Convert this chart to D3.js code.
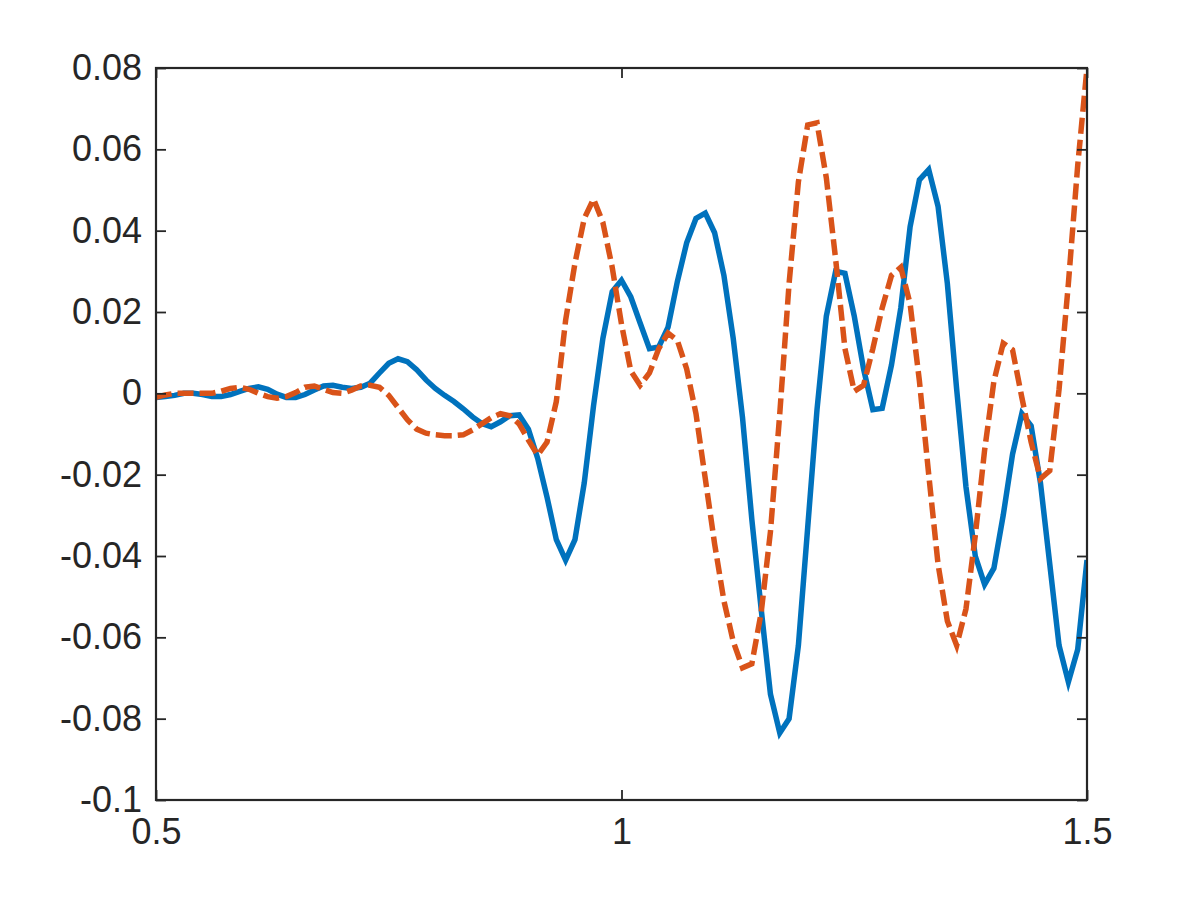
<!DOCTYPE html>
<html>
<head>
<meta charset="utf-8">
<script src="https://cdn.jsdelivr.net/npm/d3@7"></script>
<style>
  html, body { margin: 0; padding: 0; background: #ffffff; }
  svg { display: block; }
</style>
</head>
<body>
<svg id="chart" width="1200" height="900"></svg>
<script>
// ---- data ----
const xStart = 0.5;
const xStep = 0.01;
const seriesBlue = [
  -0.001, -0.0008, -0.0005, 0.0, 0.0, -0.0003, -0.0008, -0.0008, -0.0003, 0.0005,
  0.0012, 0.0016, 0.001, -0.0002, -0.001, -0.001, -0.0003, 0.0008, 0.0018, 0.002,
  0.0015, 0.0012, 0.0015, 0.0025, 0.005, 0.0074, 0.0085, 0.0078, 0.0058, 0.0033,
  0.0012, -0.0005, -0.002, -0.0038, -0.0058, -0.0074, -0.0082, -0.007, -0.0055, -0.0053,
  -0.0088, -0.016, -0.0255, -0.036, -0.041, -0.036, -0.022, -0.003, 0.0135, 0.025,
  0.0278, 0.0237, 0.0173, 0.011, 0.0114, 0.0163, 0.0275, 0.037, 0.043, 0.0443,
  0.0395, 0.029, 0.0135, -0.006, -0.031, -0.053, -0.074, -0.0835, -0.080, -0.062,
  -0.033, -0.004, 0.019, 0.030, 0.0295, 0.019, 0.006, -0.004, -0.0037, 0.007,
  0.021, 0.041, 0.0525, 0.055, 0.046, 0.027, 0.001, -0.023, -0.040, -0.047,
  -0.043, -0.030, -0.015, -0.005, -0.008, -0.022, -0.042, -0.062, -0.071, -0.063,
  -0.041
];
const seriesOrange = [
  -0.001, -0.0004, 0.0, 0.0, 0.0, 0.0, 0.0, 0.0005, 0.0012, 0.0015,
  0.001, 0.0, -0.0008, -0.0012, -0.0008, 0.0002, 0.0015, 0.0018, 0.001, 0.0002,
  0.0, 0.0008, 0.0018, 0.002, 0.0015, -0.0005, -0.0035, -0.0065, -0.0088, -0.0098,
  -0.0102, -0.0104, -0.0104, -0.0102, -0.009, -0.0075, -0.006, -0.005, -0.0055, -0.0075,
  -0.0115, -0.0152, -0.012, -0.002, 0.018, 0.032, 0.043, 0.0478, 0.042, 0.031,
  0.017, 0.0055, 0.002, 0.005, 0.011, 0.0148, 0.013, 0.006, -0.005, -0.021,
  -0.037, -0.051, -0.061, -0.0675, -0.0665, -0.054, -0.034, -0.005, 0.027, 0.052,
  0.066, 0.0665, 0.053, 0.033, 0.011, 0.0005, 0.002, 0.011, 0.021, 0.029,
  0.031, 0.022, 0.003, -0.020, -0.042, -0.056, -0.062, -0.053, -0.035, -0.014,
  0.003, 0.0123, 0.0107, -0.001, -0.012, -0.021, -0.019, 0.001, 0.027, 0.056,
  0.080
];
const xTicks = [0.5, 1, 1.5];
const xTickLabels = ["0.5", "1", "1.5"];
const yTicks = [-0.1, -0.08, -0.06, -0.04, -0.02, 0, 0.02, 0.04, 0.06, 0.08];
const yTickLabels = ["-0.1", "-0.08", "-0.06", "-0.04", "-0.02", "0", "0.02", "0.04", "0.06", "0.08"];

// ---- layout ----
const plot = { left: 156, top: 68, right: 1087, bottom: 800 };
const axisColor = "#262626";
const fontFamily = "'Liberation Sans', Arial, Helvetica, sans-serif";
const fontSize = 36;
const tickLen = 10;

const svg = d3.select("#chart");

const x = d3.scaleLinear().domain([0.5, 1.5]).range([plot.left, plot.right]);
const y = d3.scaleLinear().domain([-0.1, 0.08]).range([plot.bottom, plot.top]);

const blueData = seriesBlue.map((v, i) => ({ x: xStart + i * xStep, y: v }));
const orangeData = seriesOrange.map((v, i) => ({ x: xStart + i * xStep, y: v }));

const line = d3.line().x(d => x(d.x)).y(d => y(d.y));

// clip
svg.append("defs").append("clipPath").attr("id", "clip")
  .append("rect")
  .attr("x", plot.left).attr("y", plot.top - 3)
  .attr("width", plot.right - plot.left).attr("height", plot.bottom - plot.top + 6);

const g = svg.append("g").attr("clip-path", "url(#clip)");

g.append("path")
  .datum(blueData)
  .attr("d", line)
  .attr("fill", "none")
  .attr("stroke", "#0072BD")
  .attr("stroke-width", 5.5)
  .attr("stroke-linejoin", "miter");

g.append("path")
  .datum(orangeData)
  .attr("d", line)
  .attr("fill", "none")
  .attr("stroke", "#D95319")
  .attr("stroke-width", 5.5)
  .attr("stroke-dasharray", "16,6")
  .attr("stroke-linejoin", "miter");

// axes
function styleAxis(sel) {
  sel.select(".domain").remove();
  sel.selectAll(".tick line").attr("stroke", axisColor).attr("stroke-width", 1.8);
  sel.selectAll(".tick text")
    .attr("fill", axisColor)
    .style("font-family", fontFamily)
    .style("font-size", fontSize + "px");
}

const xLabelMap = new Map(xTicks.map((t, i) => [t, xTickLabels[i]]));
const yLabelMap = new Map(yTicks.map((t, i) => [t, yTickLabels[i]]));

const xAxisBottom = d3.axisBottom(x).tickValues(xTicks)
  .tickFormat(d => xLabelMap.get(d)).tickSize(-tickLen).tickPadding(18);
svg.append("g").attr("transform", `translate(0,${plot.bottom})`).call(xAxisBottom).call(styleAxis);

const xAxisTop = d3.axisTop(x).tickValues(xTicks).tickFormat("").tickSize(-tickLen);
svg.append("g").attr("transform", `translate(0,${plot.top})`).call(xAxisTop).call(styleAxis);

const yAxisLeft = d3.axisLeft(y).tickValues(yTicks)
  .tickFormat(d => yLabelMap.get(Math.round(d * 100) / 100)).tickSize(-tickLen).tickPadding(14);
svg.append("g").attr("transform", `translate(${plot.left},0)`).call(yAxisLeft).call(styleAxis);

const yAxisRight = d3.axisRight(y).tickValues(yTicks).tickFormat("").tickSize(-tickLen);
svg.append("g").attr("transform", `translate(${plot.right},0)`).call(yAxisRight).call(styleAxis);

// box
svg.append("rect")
  .attr("x", plot.left).attr("y", plot.top)
  .attr("width", plot.right - plot.left).attr("height", plot.bottom - plot.top)
  .attr("fill", "none").attr("stroke", axisColor).attr("stroke-width", 2.2);
</script>
</body>
</html>
